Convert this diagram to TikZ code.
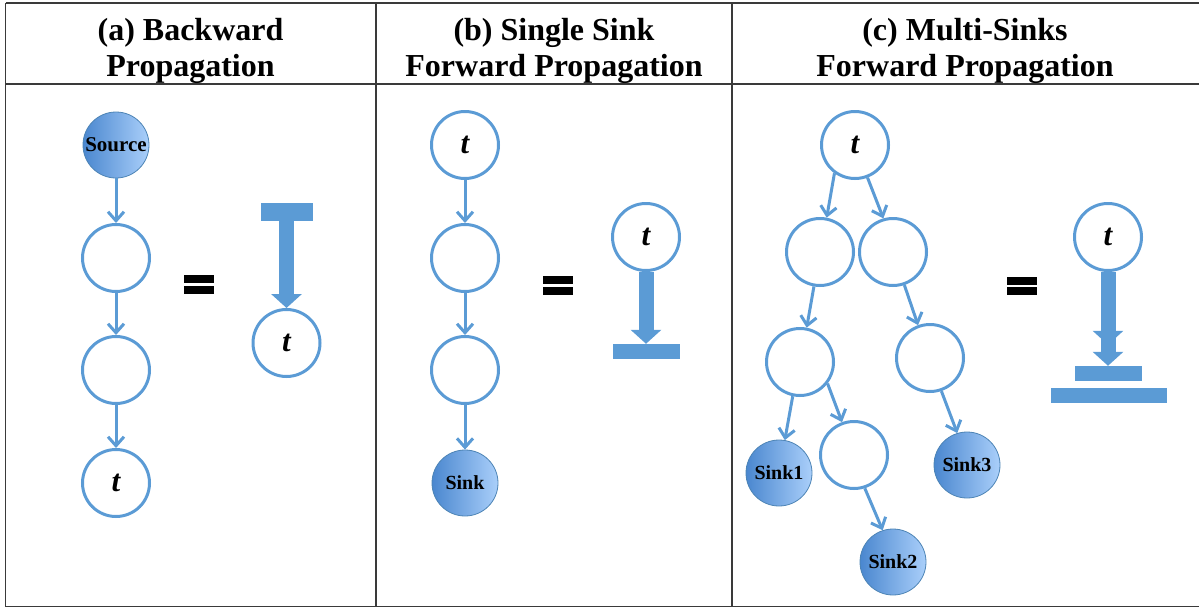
\documentclass[tikz,border=0pt]{standalone}
\usepackage{fontspec}
\setmainfont{Liberation Serif}
\usetikzlibrary{arrows.meta}
\definecolor{flowblue}{HTML}{5B9BD5}
\definecolor{sinkdark}{HTML}{4A87CF}
\definecolor{sinklight}{HTML}{AACFFA}
\definecolor{rulegray}{HTML}{3A3A3A}

\begin{document}
\begin{tikzpicture}
                                [
                                    x=1pt, y=-1pt,
                                    vertex/.style = {draw=flowblue, shape=circle, minimum size=67pt, inner sep=0pt, line width=3pt, font=\fontsize{31}{31}\selectfont\bfseries\itshape},
                                    endpoint/.style = {draw=flowblue!85!black, shape=circle, minimum size=66pt, inner sep=0pt, line width=0.8pt, left color=sinkdark, right color=sinklight, font=\fontsize{20}{20}\selectfont\bfseries},
                                    link/.style = {draw=flowblue, line width=3pt, -{Straight Barb[length=9pt,width=16pt]}},
                                    fat/.style = {draw=flowblue, line width=15pt, -{Triangle[length=14pt,width=30pt]}},
                                    bar/.style = {fill=flowblue, shape=rectangle, minimum height=15pt, inner sep=0pt},
                                    eqbar/.style = {fill=black, shape=rectangle, minimum width=30pt, minimum height=8pt, inner sep=0pt},
                                    head/.style = {align=center, inner sep=0pt, font=\fontsize{32}{36}\selectfont\bfseries},
                                    rule/.style = {draw=rulegray, line width=1.5pt},
                                ]

                                \useasboundingbox (0,0) rectangle (1199,608);

                                \draw[rule] (5.5,3) -- (1199,3);
                                \draw[rule] (5.5,84) -- (1199,84);
                                \draw[rule] (5.5,606.5) -- (1199,606.5);
                                \draw[rule] (5.5,3) -- (5.5,606.5);
                                \draw[rule] (376,3) -- (376,606.5);
                                \draw[rule] (732,3) -- (732,606.5);

                                \node[head] (hA) at (190.5,51) {(a) Backward\\Propagation};
                                \node[head] (hB) at (554,51)   {(b) Single Sink\\Forward Propagation};
                                \node[head] (hC) at (965,51)   {(c) Multi-Sinks\\Forward Propagation};

                                % (a)
                                \node[endpoint, font=\fontsize{21}{21}\selectfont\bfseries] (a0) at (116,145) {Source};
                                \node[vertex] (a1) at (116,258) {};
                                \node[vertex] (a2) at (116,370) {};
                                \node[vertex] (a3) at (116,483) {t};

                                \node[eqbar] (eqA1) at (198.5,278.5) {};
                                \node[eqbar] (eqA2) at (198.5,289.5) {};

                                \node[bar, minimum width=52pt, minimum height=18pt] (aBar) at (286.5,212) {};
                                \node[vertex] (aT) at (286.5,343) {t};

                                \draw[link] (a0) -- (a1);
                                \draw[link] (a1) -- (a2);
                                \draw[link] (a2) -- (a3);
                                \draw[fat] (aBar.south) -- (aT.north);

                                % (b)
                                \node[vertex] (b0) at (465,145) {t};
                                \node[vertex] (b1) at (465,258) {};
                                \node[vertex] (b2) at (465,370) {};
                                \node[endpoint] (b3) at (465,483) {Sink};

                                \node[eqbar] (eqB1) at (558,280) {};
                                \node[eqbar] (eqB2) at (558,290.5) {};

                                \node[vertex] (bT) at (646,237) {t};
                                \node[bar, minimum width=67pt] (bBar) at (646,351.5) {};

                                \draw[link] (b0) -- (b1);
                                \draw[link] (b1) -- (b2);
                                \draw[link] (b2) -- (b3);
                                \draw[fat] (bT.south) -- (bBar.north);

                                % (c)
                                \node[vertex] (c0) at (855,145) {t};
                                \node[vertex] (c1) at (820,252) {};
                                \node[vertex] (c2) at (893,252) {};
                                \node[vertex] (c3) at (800,362) {};
                                \node[vertex] (c4) at (930,358) {};
                                \node[vertex] (c5) at (854,455) {};
                                \node[endpoint] (s1) at (779,473) {Sink1};
                                \node[endpoint] (s2) at (893,562) {Sink2};
                                \node[endpoint] (s3) at (967,465) {Sink3};

                                \node[eqbar] (eqC1) at (1022,281) {};
                                \node[eqbar] (eqC2) at (1022,290.5) {};

                                \node[vertex] (cT) at (1108,237) {t};
                                \node[bar, minimum width=67pt] (cBar1) at (1108,373.5) {};
                                \node[bar, minimum width=116pt] (cBar2) at (1109,395.5) {};

                                \draw[link] (c0.234) -- (c1.79);
                                \draw[link] (c0.291) -- (c2.106);
                                \draw[link] (c1.260) -- (c3.79);
                                \draw[link] (c2.289) -- (c4.110);
                                \draw[link] (c3.258) -- (s1.80);
                                \draw[link] (c3.322) -- (c5.110);
                                \draw[link] (c5.288) -- (s2.108);
                                \draw[link] (c4.289) -- (s3.107);
                                \draw[fat, -{Triangle[length=14pt,width=30pt,sep=7pt]Triangle[length=14pt,width=30pt]}] (cT.south) -- (cBar1.north);
                            \end{tikzpicture}
\end{document}
